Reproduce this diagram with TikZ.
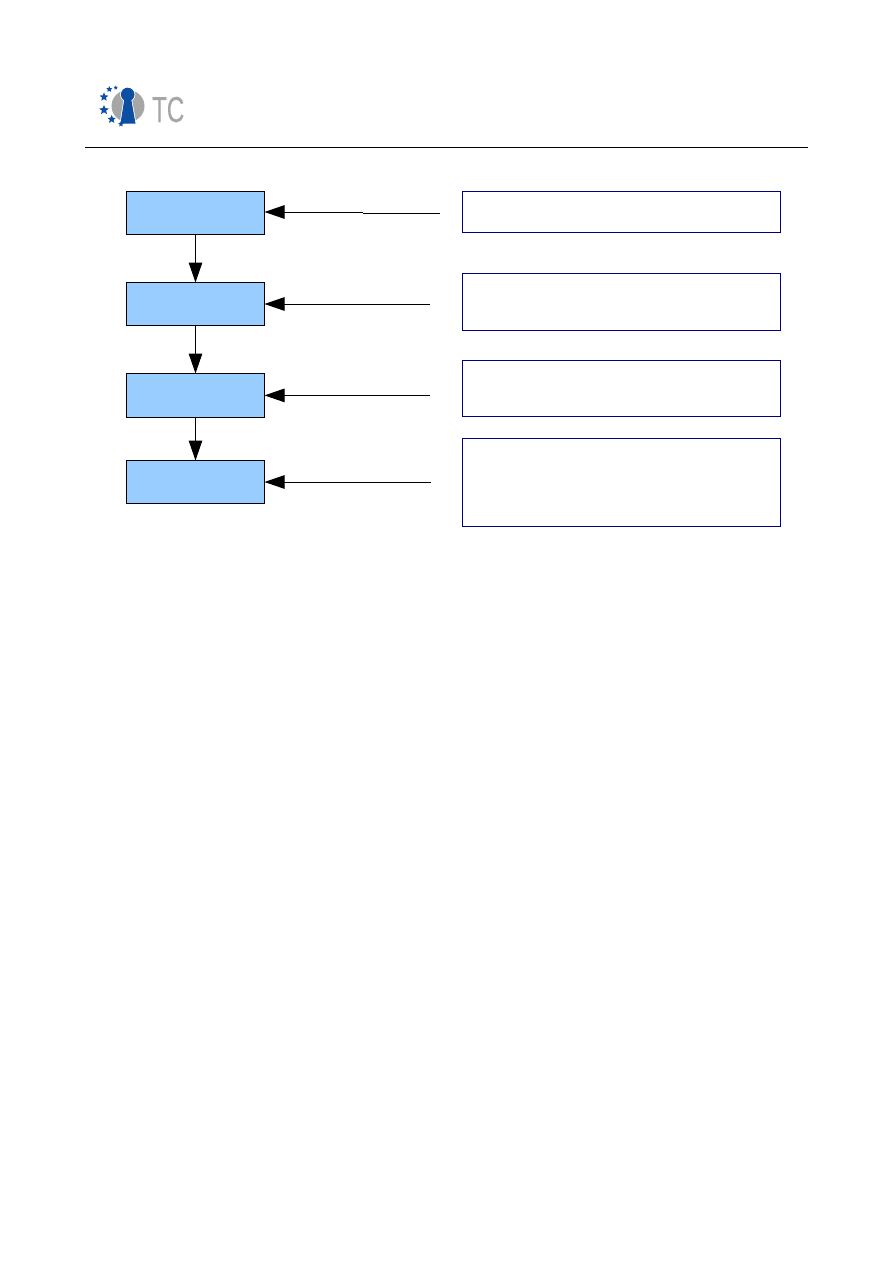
\documentclass[tikz,border=0pt]{standalone}
\usepackage{fontspec}
\setmainfont{Liberation Sans}
\newfontfamily\logofont[FakeBold=0.4]{Liberation Sans}
\usetikzlibrary{arrows.meta,shapes.geometric}
\definecolor{stepblue}{HTML}{99CCFF}
\definecolor{notenavy}{HTML}{000080}
\definecolor{logoblue}{HTML}{0B4EA2}
\definecolor{logogray}{HTML}{A6A6A6}
\tikzset{
  x=1pt,y=-1pt,
  stepbox/.style={draw=black,fill=stepblue,line width=1pt,inner sep=0pt,outer sep=0pt,minimum width=138pt},
  notebox/.style={draw=notenavy,line width=1pt,inner sep=0pt,outer sep=0pt,minimum width=318pt},
  flow/.style={line width=1pt,-{Triangle[length=20pt,width=13.5pt]}},
  plainline/.style={line width=1pt},
  starmark/.style={star,star points=5,star point ratio=2.2,fill=logoblue,inner sep=0pt}
}
\begin{document}
\begin{tikzpicture}
\useasboundingbox (0,0) rectangle (893,1263);
\fill[white] (0,0) rectangle (893,1263);
% header logo
\fill[logogray] (128,106) ellipse[x radius=16.5,y radius=16];
\draw[white,line width=1.6pt,fill=white] (127.7,94.5) circle[radius=6.8];
\draw[white,line width=1.6pt,fill=white] (124.5,98) -- (131,98) -- (135.5,123.5) -- (120.5,123.5) -- cycle;
\fill[logoblue] (127.7,94.5) circle[radius=6.8];
\fill[logoblue] (124.5,98) -- (131,98) -- (135.5,123.5) -- (120.5,123.5) -- cycle;
\foreach \sx/\sy/\ss in {109.3/89.3/3.2,115.7/87.7/2.2,104/97/4.6,104/110/5,111.7/119.3/4.4,121/124/3}{
  \node[starmark,minimum size=2*\ss pt] at (\sx,\sy) {};
}
\node[text=logogray,font=\logofont\fontsize{36}{36}\selectfont,xscale=.67,inner sep=0pt,anchor=base west] (logo) at (152,122) {TC};
% header rule
\coordinate (ruleL) at (85,147.5);
\coordinate (ruleR) at (807.5,147.5);
\draw[plainline] (ruleL) -- (ruleR);
% step boxes
\node[stepbox,minimum height=43.5pt] (s1) at (195.5,212.75) {};
\node[stepbox,minimum height=43pt] (s2) at (195.5,304) {};
\node[stepbox,minimum height=43.5pt] (s3) at (195.5,395.25) {};
\node[stepbox,minimum height=42.5pt] (s4) at (195.5,481.75) {};
% note boxes
\node[notebox,minimum height=41pt] (n1) at (621.5,212) {};
\node[notebox,minimum height=57pt] (n2) at (621.5,302) {};
\node[notebox,minimum height=56pt] (n3) at (621.5,388.5) {};
\node[notebox,minimum height=88pt] (n4) at (621.5,482.5) {};
% vertical flow
\draw[flow] (s1) -- (s2);
\draw[flow] (s2) -- (s3);
\draw[flow] (s3) -- (s4);
% horizontal feeds
\coordinate (e1) at (440,213);
\coordinate (j1a) at (363,213);
\coordinate (j1b) at (363,212);
\coordinate (e2) at (430,304);
\coordinate (e3) at (430,395.4);
\coordinate (e4) at (431,482);
\draw[plainline] (e1) -- (j1a);
\draw[flow] (j1b) -- (s1.east |- j1b);
\draw[flow] (e2) -- (s2.east |- e2);
\draw[flow] (e3) -- (s3.east |- e3);
\draw[flow] (e4) -- (s4.east |- e4);
\end{tikzpicture}
\end{document}
